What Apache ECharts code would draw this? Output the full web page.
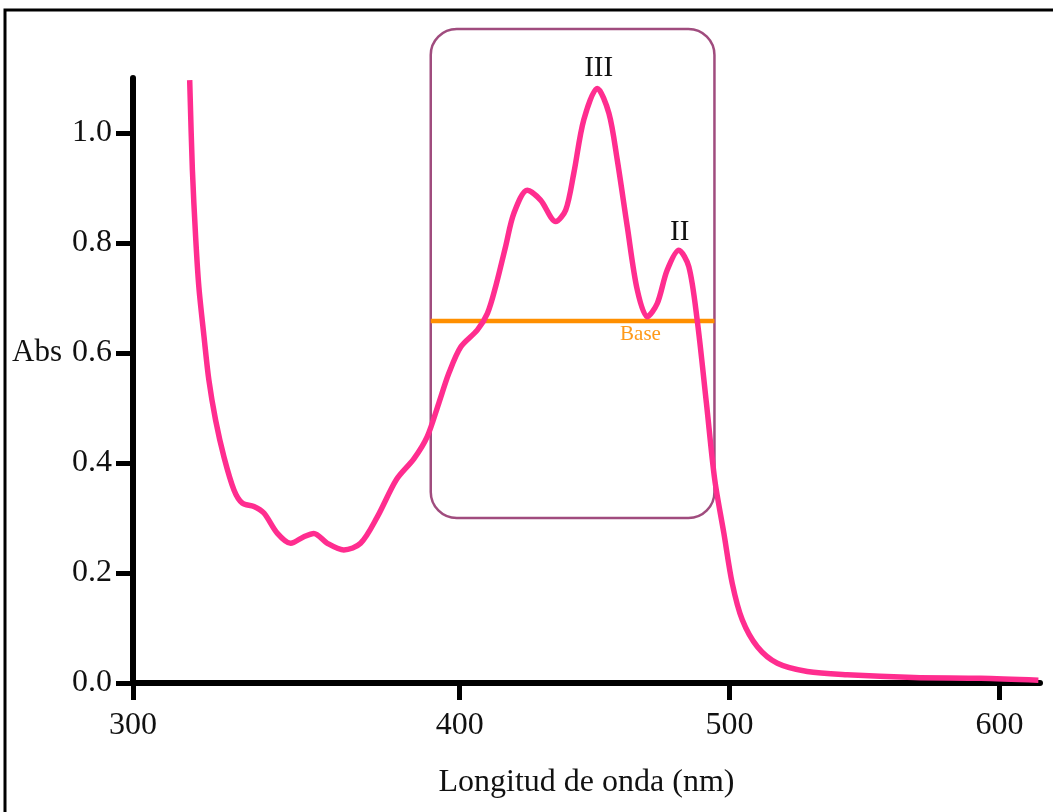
<!DOCTYPE html>
<html>
<head>
<meta charset="utf-8">
<script src="https://cdn.jsdelivr.net/npm/echarts@6/dist/echarts.min.js"></script>
<style>
  html, body { margin: 0; padding: 0; background: #fff; }
  #chart { width: 1053px; height: 812px; }
</style>
</head>
<body>
<div id="chart"></div>
<script>
// ---- Data ----
const wavelengths = [300, 301, 302.2, 303.4, 305.3, 307.1, 309.6, 312.7, 316.4, 319.5, 323.8, 327.5,
  332.5, 337.4, 342.3, 346, 351, 357.1, 363.3, 369.5, 376.6, 383.1, 388, 392.3, 396, 400.4,
  406.6, 410.3, 413.3, 417, 420.1, 425.1, 430, 435.6, 439.3, 442.3, 446, 451, 455.3, 458.4,
  462.1, 465.8, 469.5, 473.2, 476.9, 481.2, 484.9, 488, 491.4, 494.5, 497.9, 501, 504.7,
  510.3, 517.7, 528.8, 543.6, 568.3, 593, 614.4];
const absorbance = [1.096, 0.933, 0.811, 0.72, 0.63, 0.551, 0.478, 0.411, 0.351, 0.327, 0.321, 0.309,
  0.272, 0.254, 0.266, 0.272, 0.254, 0.242, 0.254, 0.302, 0.370, 0.408, 0.448, 0.509, 0.563, 0.611,
  0.642, 0.672, 0.72, 0.793, 0.854, 0.896, 0.878, 0.839, 0.86, 0.927, 1.024, 1.081, 1.036, 0.951,
  0.83, 0.715, 0.666, 0.69, 0.751, 0.787, 0.757, 0.66, 0.51, 0.37, 0.272, 0.181, 0.115,
  0.066, 0.036, 0.021, 0.015, 0.010, 0.0085, 0.005];

// x axis ticks: the reference labels its axis origin "300"
const xAxisMin = 279;
const xAxisMax = 615;
const xTickValues = [279, 400, 500, 600];
const xTickLabels = ['300', '400', '500', '600'];
const yTickValues = [0, 0.2, 0.4, 0.6, 0.8, 1.0];

// Annotation region (box) and base line, in data units
const boxX = [389.3, 494.4];
const boxY = [0.300, 1.189];
const baseLevel = 0.658;
const baseLabel = { text: 'Base', x: 467, y: 0.633 };
const peakLabels = ['III', 'II'];
const peakLabelX = [451.5, 481.5];
const peakLabelY = [1.118, 0.82];

// ---- Chart ----
const FONT = "'Liberation Serif', 'DejaVu Serif', serif";
const chart = echarts.init(document.getElementById('chart'), null, { renderer: 'canvas' });

const lineData = wavelengths.map((w, i) => [w, absorbance[i]]);

chart.setOption({
  animation: false,
  backgroundColor: '#ffffff',
  grid: { left: 133, right: 13, top: 78, bottom: 129, containLabel: false },
  xAxis: {
    type: 'value',
    min: xAxisMin,
    max: xAxisMax,
    name: 'Longitud de onda (nm)',
    nameLocation: 'middle',
    nameGap: 84,
    nameTextStyle: { fontFamily: FONT, fontSize: 32, color: '#111' },
    axisLine: { show: true, lineStyle: { color: '#000', width: 6 } },
    axisTick: { show: true, length: 17, lineStyle: { color: '#000', width: 5 }, customValues: xTickValues },
    axisLabel: {
      customValues: xTickValues,
      fontFamily: FONT, fontSize: 32, color: '#111', margin: 27,
      formatter: function (v) {
        const idx = xTickValues.indexOf(v);
        return idx >= 0 ? xTickLabels[idx] : '';
      }
    },
    splitLine: { show: false }
  },
  yAxis: {
    type: 'value',
    min: 0,
    max: 1.1,
    axisLine: { show: true, lineStyle: { color: '#000', width: 6 } },
    axisTick: { show: true, length: 17, lineStyle: { color: '#000', width: 5 }, customValues: yTickValues },
    axisLabel: {
      customValues: yTickValues,
      fontFamily: FONT, fontSize: 32, color: '#111', margin: 21,
      formatter: function (v) { return v.toFixed(1); }
    },
    splitLine: { show: false }
  },
  series: [{
    type: 'line',
    data: lineData,
    smooth: 0.3,
    showSymbol: false,
    clip: true,
    lineStyle: { color: '#ff2d8f', width: 5.5 },
    z: 5
  }]
});

function drawAnnotations() {
  const p = (x, y) => chart.convertToPixel({ gridIndex: 0 }, [x, y]);
  const tl = p(boxX[0], boxY[1]);
  const br = p(boxX[1], boxY[0]);
  const bl = p(boxX[0], baseLevel);
  const brb = p(boxX[1], baseLevel);
  const baseP = p(baseLabel.x, baseLabel.y);
  const elements = [
    {
      type: 'rect',
      shape: { x: 5, y: 10, width: 1100, height: 900 },
      style: { fill: 'none', stroke: '#000', lineWidth: 3 },
      z: 1
    },
    {
      type: 'rect',
      shape: { x: tl[0], y: tl[1], width: br[0] - tl[0], height: br[1] - tl[1], r: 26 },
      style: { fill: 'none', stroke: '#a04c7e', lineWidth: 2.5 },
      z: 3
    },
    {
      type: 'line',
      shape: { x1: bl[0], y1: bl[1], x2: brb[0], y2: brb[1] },
      style: { stroke: '#ff8f00', lineWidth: 4.5 },
      z: 4
    },
    {
      type: 'text',
      x: baseP[0], y: baseP[1],
      style: { text: baseLabel.text, fontFamily: FONT, fontSize: 21, fill: '#ff9a1a', align: 'center', verticalAlign: 'middle' },
      z: 6
    },
    {
      type: 'text',
      x: 62, y: 353,
      style: { text: 'Abs', fontFamily: FONT, fontSize: 31, fill: '#111', align: 'right', verticalAlign: 'middle' },
      z: 6
    }
  ];
  peakLabels.forEach((t, i) => {
    const pp = p(peakLabelX[i], peakLabelY[i]);
    elements.push({
      type: 'text',
      x: pp[0], y: pp[1],
      style: { text: t, fontFamily: FONT, fontSize: 29, fill: '#111', align: 'center', verticalAlign: 'middle' },
      z: 6
    });
  });
  chart.setOption({ graphic: { elements: elements } });
}
drawAnnotations();
</script>
</body>
</html>
